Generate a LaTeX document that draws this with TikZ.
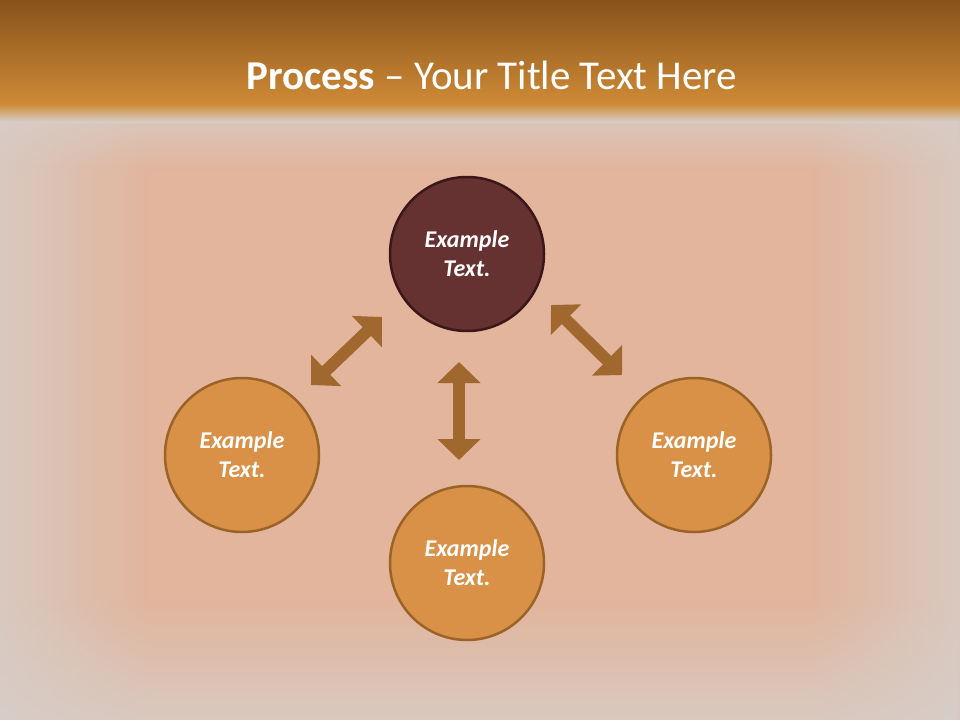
\documentclass[tikz,border=0pt]{standalone}
\usepackage{fontspec}
\setmainfont{Carlito}
\usepackage{xcolor}
\usetikzlibrary{shapes,shapes.geometric,arrows,arrows.meta,positioning,fadings}

\definecolor{bandtop}{HTML}{86531A}
\definecolor{bandbot}{HTML}{CF8A36}
\definecolor{woodpeach}{HTML}{E2B59C}
\definecolor{woodgrey}{HTML}{D7CEC9}
\definecolor{hubfill}{HTML}{663131}
\definecolor{hubline}{HTML}{3B1719}
\definecolor{bubfill}{HTML}{D89146}
\definecolor{bubline}{HTML}{9B6327}
\definecolor{linkcol}{HTML}{A0672F}

\begin{document}
\begin{tikzpicture}[
  x=1pt, y=-1pt,
  node distance=200pt and 225pt, on grid,
  bubble/.style={circle, draw=bubline, fill=bubfill, line width=2.5pt,
                 minimum size=154pt, inner sep=0pt,
                 align=center, text=white, font=\fontsize{24}{29}\selectfont\bfseries\itshape},
  hub/.style={bubble, draw=hubline, fill=hubfill},
  link/.style={{Triangle[width=42pt,length=21pt]}-{Triangle[width=42pt,length=21pt]},
               line width=12pt, linkcol}
]
% background
\useasboundingbox (0,0) rectangle (960,720);
\fill[woodpeach] (0,100) rectangle (960,720);
\fill[woodgrey, path fading=east, opacity=0.8] (0,100) rectangle (150,720);
\fill[woodgrey, path fading=west, opacity=0.8] (810,100) rectangle (960,720);
\fill[woodgrey, path fading=north, opacity=0.8] (0,600) rectangle (960,720);
\fill[woodgrey, path fading=south, opacity=0.8] (0,110) rectangle (960,170);
\shade[top color=bandtop, bottom color=bandbot] (0,0) rectangle (960,104);
\shade[top color=bandbot, bottom color=woodgrey] (0,104) rectangle (960,122);

% title
\node[text=white, font=\fontsize{41}{48}\selectfont] (title) at (492,75)
  {\textbf{Process} -- Your Title Text Here};

% circles
\node[hub] (top) at (467,254) {Example\\Text.};
\node[bubble, below left=201pt and 225pt of top] (left) {Example\\Text.};
\node[bubble, below right=201pt and 227pt of top] (right) {Example\\Text.};
\node[bubble, below=309pt of top] (bottom) {Example\\Text.};

% arrow ends
\coordinate (l1) at (311,385);
\coordinate (l2) at (382,317);
\coordinate (r1) at (551,305);
\coordinate (r2) at (622,375);
\coordinate (m1) at (459,362);
\coordinate (m2) at (459,460);

\draw[link] (l1) -- (l2);
\draw[link] (r1) -- (r2);
\draw[link] (m1) -- (m2);
\end{tikzpicture}
\end{document}
